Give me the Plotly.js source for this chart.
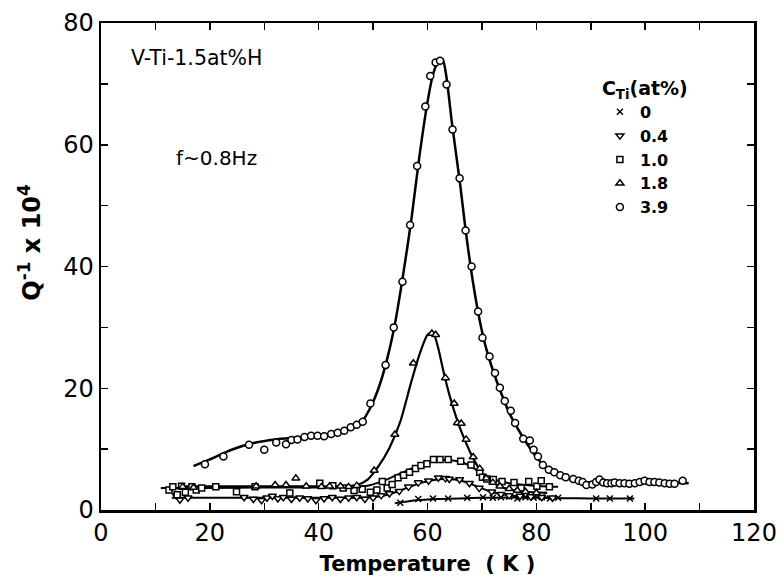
<!DOCTYPE html>
<html><head><meta charset="utf-8">
<script src="https://cdn.plot.ly/plotly-3.0.1.min.js"></script>
<style>body{margin:0;background:#fff}#c{width:784px;height:578px}</style>
</head><body><div id="c"></div>
<script>
// Legend labels (C_Ti at%)
const seriesNames = ['0', '0.4', '1.0', '1.8', '3.9'];

// Measured points
const T_0 = [55.0, 58.3, 61.0, 63.8, 67.3, 70.2, 72.0, 73.5, 75.0, 76.5, 78.0, 79.5, 81.0, 82.5, 84.0, 91.0, 93.5, 97.2];
const Q_0 = [1.2, 1.8, 1.9, 1.9, 2.0, 2.1, 2.0, 2.1, 2.2, 1.9, 2.1, 2.0, 2.1, 1.9, 2.0, 1.9, 1.9, 1.9];

const T_04 = [13.8, 14.5, 16.0, 26.3, 28.0, 29.5, 30.5, 31.5, 32.5, 33.5, 35.0, 36.5, 38.0, 39.5, 41.0, 42.5, 44.0, 45.5, 47.0, 48.5, 50.0, 51.5, 53.0, 54.8, 56.5, 58.3, 60.2, 62.0, 63.3, 64.0, 65.9, 67.7, 69.5, 71.8, 73.5, 75.0, 77.0, 79.0, 81.0, 83.0];
const Q_04 = [2.4, 1.7, 2.0, 2.1, 1.8, 1.6, 2.0, 2.3, 1.9, 2.1, 1.8, 2.0, 1.9, 1.6, 1.9, 2.1, 1.8, 2.0, 2.1, 1.8, 2.0, 2.4, 2.7, 3.1, 3.8, 4.5, 4.8, 5.3, 5.2, 5.1, 5.0, 4.4, 3.6, 3.0, 2.6, 2.4, 2.3, 2.2, 2.1, 2.0];

const T_10 = [12.5, 13.2, 14.0, 14.8, 15.5, 16.7, 17.5, 18.5, 21.1, 24.9, 28.3, 34.7, 40.2, 42.6, 44.5, 46.5, 48.0, 49.5, 50.7, 51.7, 52.6, 53.5, 54.6, 55.6, 56.7, 57.8, 58.8, 59.9, 61.1, 62.3, 63.8, 66.1, 68.0, 69.6, 70.1, 70.9, 72.1, 73.7, 75.9, 77.2, 78.6, 80.1, 80.9, 82.4];
const Q_10 = [3.3, 3.8, 2.5, 3.9, 2.9, 3.8, 3.3, 3.6, 3.8, 3.0, 3.8, 2.8, 4.4, 4.0, 3.6, 3.2, 3.4, 2.9, 3.3, 4.7, 3.6, 4.2, 5.3, 5.7, 6.2, 6.8, 7.3, 7.6, 8.3, 8.3, 8.3, 8.0, 7.4, 6.2, 5.4, 5.1, 5.0, 4.7, 4.5, 3.6, 4.7, 3.9, 4.8, 3.8];

const T_18 = [15.0, 17.0, 28.5, 32.0, 34.0, 35.8, 37.7, 40.5, 42.0, 44.0, 45.5, 47.0, 50.2, 54.0, 57.4, 60.8, 61.5, 63.3, 64.9, 65.5, 66.2, 67.1, 68.4, 69.6, 70.8, 72.0, 73.3, 75.0, 76.5, 78.0, 80.0];
const Q_18 = [3.8, 3.7, 3.9, 4.1, 4.1, 5.2, 3.9, 3.8, 3.9, 3.9, 3.8, 4.0, 6.5, 12.4, 24.1, 29.0, 28.8, 21.7, 17.5, 14.3, 14.2, 11.6, 8.7, 6.8, 5.2, 4.5, 3.9, 3.5, 3.2, 3.0, 2.8];

const T_39 = [19.1, 22.5, 27.2, 30.0, 32.2, 34.0, 35.0, 36.1, 37.4, 38.6, 39.8, 41.0, 42.3, 43.5, 44.7, 45.9, 47.0, 48.1, 49.5, 52.3, 53.8, 55.4, 56.8, 58.1, 59.6, 60.5, 61.5, 62.3, 63.5, 64.6, 65.9, 67.0, 68.1, 69.3, 70.1, 71.4, 72.4, 73.3, 74.2, 75.3, 76.1, 77.6, 78.8, 79.5, 80.3, 81.2, 82.3, 83.3, 84.4, 85.4, 86.8, 87.8, 88.5, 89.2, 90.3, 91.0, 91.6, 92.3, 93.0, 93.8, 94.4, 95.3, 96.2, 97.1, 98.1, 99.0, 99.9, 100.8, 101.7, 102.6, 103.6, 104.5, 105.4, 106.9];
const Q_39 = [7.5, 8.8, 10.7, 9.9, 11.1, 10.8, 11.5, 11.6, 12.0, 12.2, 12.2, 12.1, 12.5, 12.7, 13.0, 13.6, 14.0, 14.5, 17.5, 23.8, 30.0, 37.5, 46.8, 56.5, 66.3, 71.3, 73.5, 73.8, 69.9, 62.5, 54.5, 45.9, 40.0, 32.6, 28.3, 25.2, 22.5, 20.1, 17.9, 16.3, 14.3, 11.7, 11.4, 9.9, 8.8, 7.4, 6.6, 6.2, 5.7, 5.4, 5.1, 4.8, 4.6, 4.1, 4.2, 4.6, 5.0, 4.5, 4.4, 4.4, 4.5, 4.4, 4.4, 4.3, 4.4, 4.6, 4.8, 4.6, 4.6, 4.5, 4.4, 4.3, 4.3, 4.8];

// Hand-drawn guide curves
const fitT_0 = [54, 58, 62, 66, 70, 75, 80, 85, 90, 95, 98];
const fitQ_0 = [1.1, 1.6, 1.8, 1.9, 2.0, 2.05, 2.0, 1.95, 1.9, 1.9, 1.9];
const fitT_04 = [13, 20, 30, 40, 48, 51, 53, 55, 57, 59, 61, 63, 65, 67, 69, 71, 73, 76, 80, 84];
const fitQ_04 = [2.0, 2.0, 2.0, 2.0, 2.0, 2.2, 2.6, 3.2, 3.9, 4.5, 4.9, 5.1, 5.0, 4.6, 3.9, 3.2, 2.7, 2.3, 2.1, 2.0];
const fitT_10 = [11, 20, 30, 40, 46, 49, 51, 53, 55, 57, 59, 61, 63, 65, 67, 69, 71, 73, 75, 78, 81, 84];
const fitQ_10 = [3.6, 3.6, 3.7, 3.7, 3.8, 4.0, 4.5, 5.2, 6.0, 6.8, 7.5, 8.0, 8.2, 8.1, 7.6, 6.6, 5.5, 4.8, 4.4, 4.1, 3.9, 3.8];
const fitT_18 = [15, 25, 35, 44, 47, 49, 51, 53, 55, 57, 58.5, 60, 61, 62, 63, 64, 65, 66, 67, 68, 69, 70, 71.5, 73, 75, 78, 82];
const fitQ_18 = [3.9, 3.9, 3.9, 3.9, 4.1, 5.0, 7.2, 10.2, 14.5, 21.0, 25.5, 28.8, 29.2, 26.5, 22.5, 19.0, 16.0, 13.4, 11.2, 9.2, 7.5, 6.1, 4.8, 4.0, 3.4, 3.0, 2.8];
const fitT_39 = [17, 20, 24, 28, 32, 36, 40, 44, 46, 48, 49.5, 51, 52.5, 54, 55.5, 57, 58.5, 60, 61, 62, 62.8, 63.5, 64.5, 66, 67, 68, 69.3, 70.5, 72, 73.5, 75, 76.5, 78, 80, 82, 84, 86, 88, 92, 96, 100, 104, 108];
const fitQ_39 = [7.2, 8.3, 9.9, 11.0, 11.6, 11.9, 12.2, 12.8, 13.4, 14.6, 16.8, 20.0, 24.5, 30.5, 38.5, 47.5, 58.0, 67.0, 71.5, 73.8, 74.0, 71.0, 63.5, 53.5, 46.0, 39.5, 32.5, 27.5, 23.0, 19.3, 16.0, 13.5, 11.3, 8.7, 6.8, 5.7, 5.1, 4.7, 4.4, 4.4, 4.6, 4.5, 4.4];

const FONT = 'DejaVu Sans';
function fit(x, y, w) {
  return {x: x, y: y, mode: 'lines', line: {color: '#000', width: w, shape: 'spline', smoothing: 0.6},
          showlegend: false, hoverinfo: 'skip'};
}
function pts(x, y, name, symbol, size) {
  const open = symbol !== 'x-thin';
  return {x: x, y: y, mode: 'markers', name: name,
          marker: {symbol: symbol, size: size, color: open ? '#fff' : '#000',
                   line: {color: '#000', width: 1.5}}};
}
const data = [
  fit(fitT_0, fitQ_0, 2), fit(fitT_04, fitQ_04, 2), fit(fitT_10, fitQ_10, 2),
  fit(fitT_18, fitQ_18, 2.2), fit(fitT_39, fitQ_39, 2.5),
  pts(T_0, Q_0, seriesNames[0], 'x-thin', 6),
  pts(T_04, Q_04, seriesNames[1], 'triangle-down', 7),
  pts(T_10, Q_10, seriesNames[2], 'square', 6),
  pts(T_18, Q_18, seriesNames[3], 'triangle-up', 7),
  pts(T_39, Q_39, seriesNames[4], 'circle', 7)
];
const axisCommon = {
  showline: true, linecolor: '#000', linewidth: 2.5, mirror: 'ticks',
  ticks: 'inside', ticklen: 7, tickwidth: 1.5, tickcolor: '#000',
  showgrid: false, zeroline: false,
  tickfont: {family: FONT, size: 24, color: '#000'}
};
const layout = {
  width: 784, height: 578,
  margin: {l: 101, r: 30, t: 23, b: 68},
  paper_bgcolor: '#fff', plot_bgcolor: '#fff',
  xaxis: Object.assign({}, axisCommon, {
    range: [0, 120], dtick: 20, tick0: 0,
    minor: {dtick: 10, ticks: 'inside', ticklen: 7, tickwidth: 1.5, tickcolor: '#000'},
    title: {text: 'Temperature  ( K )', font: {family: FONT, size: 21, color: '#000', weight: 'bold'}, standoff: 10}
  }),
  yaxis: Object.assign({}, axisCommon, {
    range: [0, 80], dtick: 20, tick0: 0,
    minor: {dtick: 10, ticks: 'inside', ticklen: 7, tickwidth: 1.5, tickcolor: '#000'},
    ticklabelstandoff: 0
  }),
  showlegend: true,
  legend: {
    x: 0.764, y: 0.903, xanchor: 'left', yanchor: 'top',
    bgcolor: 'rgba(0,0,0,0)', borderwidth: 0,
    font: {family: FONT, size: 16, color: '#000', weight: 'bold'},
    title: {text: 'C<sub>Ti</sub>(at%)', font: {family: FONT, size: 19, color: '#000', weight: 'bold'}},
    traceorder: 'normal', itemwidth: 30
  },
  annotations: [
    {xref: 'paper', yref: 'paper', x: 0.043, y: 0.928, xanchor: 'left', yanchor: 'middle',
     text: 'V-Ti-1.5at%H', showarrow: false, font: {family: FONT, size: 20.5, color: '#000'}},
    {xref: 'paper', yref: 'paper', x: 0.112, y: 0.723, xanchor: 'left', yanchor: 'middle',
     text: 'f~0.8Hz', showarrow: false, font: {family: FONT, size: 20, color: '#000'}},
    {xref: 'paper', yref: 'paper', x: -0.108, y: 0.55, xanchor: 'center', yanchor: 'middle',
     text: 'Q<sup>-1</sup> x 10<sup>4</sup>', textangle: -90, showarrow: false,
     font: {family: FONT, size: 24, color: '#000', weight: 'bold'}}
  ]
};
Plotly.newPlot('c', data, layout, {staticPlot: true});
</script>
</body></html>
